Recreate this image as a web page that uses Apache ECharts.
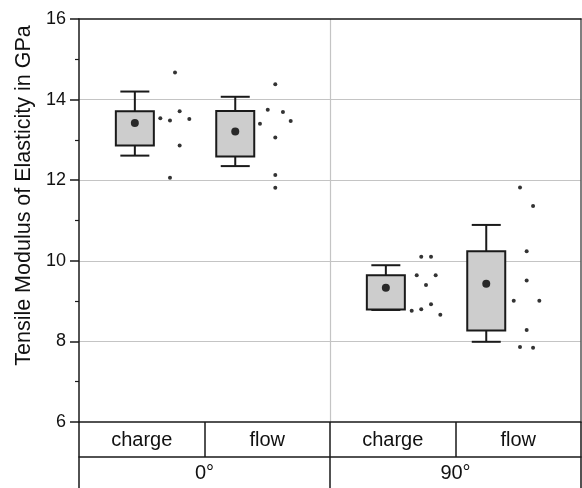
<!DOCTYPE html>
<html>
<head>
<meta charset="utf-8">
<script src="https://cdn.jsdelivr.net/npm/echarts@6/dist/echarts.min.js"></script>
<style>
  html, body { margin: 0; padding: 0; background: #fff; }
  #chart { width: 582px; height: 488px; }
</style>
</head>
<body>
<div id="chart"></div>
<script>
// ---- data ----
const categories = ['charge', 'flow', 'charge', 'flow'];
const groups = ['0°', '90°'];
const yTicks = [6, 8, 10, 12, 14, 16];

// box position along the category axis (category index units)
const boxX = [0.445, 1.245, 2.445, 3.245];
const whiskerLow  = [12.61, 12.35, 8.78, 7.99];
const q1          = [12.86, 12.59, 8.79, 8.27];
const q3          = [13.71, 13.72, 9.64, 10.24];
const whiskerHigh = [14.20, 14.07, 9.89, 10.89];
const means       = [13.42, 13.21, 9.33, 9.43];

// raw specimens (x = position along category axis, y = value)
const ptsX0 = [0.765, 0.648, 0.725, 0.802, 0.879, 0.802, 0.725];
const ptsY0 = [14.67, 13.54, 13.48, 13.71, 13.52, 12.86, 12.06];
const ptsX1 = [1.564, 1.504, 1.625, 1.442, 1.687, 1.564, 1.564, 1.564];
const ptsY1 = [14.38, 13.75, 13.69, 13.40, 13.47, 13.06, 12.13, 11.81];
const ptsX2 = [2.727, 2.805, 2.691, 2.842, 2.765, 2.805, 2.727, 2.651, 2.879];
const ptsY2 = [10.10, 10.10, 9.64, 9.64, 9.40, 8.92, 8.80, 8.76, 8.66];
const ptsX3 = [3.514, 3.618, 3.567, 3.567, 3.464, 3.668, 3.567, 3.514, 3.618];
const ptsY3 = [11.82, 11.36, 10.24, 9.51, 9.01, 9.01, 8.28, 7.86, 7.84];

// ---- build ----
const boxData = boxX.map((x, i) => [x, whiskerLow[i], q1[i], q3[i], whiskerHigh[i]]);
const meanData = boxX.map((x, i) => [x, means[i]]);
const ptsData = [];
[[ptsX0, ptsY0], [ptsX1, ptsY1], [ptsX2, ptsY2], [ptsX3, ptsY3]].forEach(([xs, ys]) => {
  xs.forEach((x, j) => ptsData.push([x, ys[j]]));
});

const FONT = "'Liberation Sans', Arial, sans-serif";
const BOX_W = 38, CAP_W = 19;
const LINE = '#1a1a1a';

const chart = echarts.init(document.getElementById('chart'), null, { renderer: 'canvas' });
chart.setOption({
  animation: false,
  backgroundColor: '#fff',
  grid: { left: 79, right: 1, top: 19, bottom: 66, containLabel: false },
  xAxis: [
    {
      type: 'value', min: 0, max: 4, interval: 2, position: 'top',
      axisLine: { show: true, lineStyle: { color: LINE, width: 1.5 } },
      axisTick: { show: false }, axisLabel: { show: false },
      splitLine: { show: true, showMinLine: false, showMaxLine: false, lineStyle: { color: '#c4c4c4', width: 1.2 } }
    },
    {
      type: 'category', data: categories, position: 'bottom', offset: 0, boundaryGap: true,
      axisLine: { show: true, lineStyle: { color: LINE, width: 1.5 } },
      axisTick: { show: true, interval: 0, length: 35, lineStyle: { color: LINE, width: 1.5 } },
      axisLabel: { show: true, interval: 0, fontSize: 20, fontFamily: FONT, color: '#111', margin: 8 },
      splitLine: { show: false }
    },
    {
      type: 'category', data: groups, position: 'bottom', offset: 35, boundaryGap: true,
      axisLine: { show: true, lineStyle: { color: LINE, width: 1.5 } },
      axisTick: { show: true, interval: 0, length: 32, lineStyle: { color: LINE, width: 1.5 } },
      axisLabel: { show: true, interval: 0, fontSize: 20, fontFamily: FONT, color: '#111', margin: 6 },
      splitLine: { show: false }
    }
  ],
  yAxis: [
    {
      type: 'value', min: yTicks[0], max: yTicks[yTicks.length - 1], interval: 2, position: 'left',
      name: 'Tensile Modulus of Elasticity in GPa', nameLocation: 'middle', nameGap: 42, nameRotate: 90,
      nameTextStyle: { fontSize: 21.5, fontFamily: FONT, color: '#111', padding: [0, 0, 0, 50] },
      axisLine: { show: true, lineStyle: { color: LINE, width: 1.5 } },
      axisTick: { show: true, inside: false, length: 9, lineStyle: { color: LINE, width: 1.5 } },
      minorTick: { show: true, splitNumber: 2, length: 4, lineStyle: { color: LINE, width: 1.2 } },
      axisLabel: { show: true, fontSize: 18, fontFamily: FONT, color: '#111', margin: 13 },
      splitLine: { show: true, showMinLine: false, showMaxLine: false, lineStyle: { color: '#c4c4c4', width: 1.2 } }
    },
    {
      type: 'value', min: yTicks[0], max: yTicks[yTicks.length - 1], position: 'right',
      axisLine: { show: true, lineStyle: { color: '#555', width: 1.5 } },
      axisTick: { show: false }, axisLabel: { show: false }, splitLine: { show: false }
    }
  ],
  series: [
    {
      type: 'custom', xAxisIndex: 0, yAxisIndex: 0, data: boxData, z: 3,
      renderItem: function (params, api) {
        const x = api.value(0);
        const pLo = api.coord([x, api.value(1)]);
        const pQ1 = api.coord([x, api.value(2)]);
        const pQ3 = api.coord([x, api.value(3)]);
        const pHi = api.coord([x, api.value(4)]);
        const cx = pLo[0];
        const st = { stroke: LINE, lineWidth: 2, fill: null };
        return {
          type: 'group',
          children: [
            { type: 'line', shape: { x1: cx, y1: pQ3[1], x2: cx, y2: pHi[1] }, style: st },
            { type: 'line', shape: { x1: cx, y1: pQ1[1], x2: cx, y2: pLo[1] }, style: st },
            { type: 'line', shape: { x1: cx - CAP_W / 2 - 5, y1: pHi[1], x2: cx + CAP_W / 2 + 5, y2: pHi[1] }, style: st },
            { type: 'line', shape: { x1: cx - CAP_W / 2 - 5, y1: pLo[1], x2: cx + CAP_W / 2 + 5, y2: pLo[1] }, style: st },
            { type: 'rect', shape: { x: cx - BOX_W / 2, y: pQ3[1], width: BOX_W, height: pQ1[1] - pQ3[1] },
              style: { fill: '#cdcdcd', stroke: LINE, lineWidth: 2 } }
          ]
        };
      }
    },
    {
      type: 'scatter', xAxisIndex: 0, yAxisIndex: 0, data: meanData, z: 4,
      symbol: 'circle', symbolSize: 8, itemStyle: { color: '#000' }
    },
    {
      type: 'scatter', xAxisIndex: 0, yAxisIndex: 0, data: ptsData, z: 4,
      symbol: 'circle', symbolSize: 4, itemStyle: { color: '#000' }
    }
  ]
});
</script>
</body>
</html>
